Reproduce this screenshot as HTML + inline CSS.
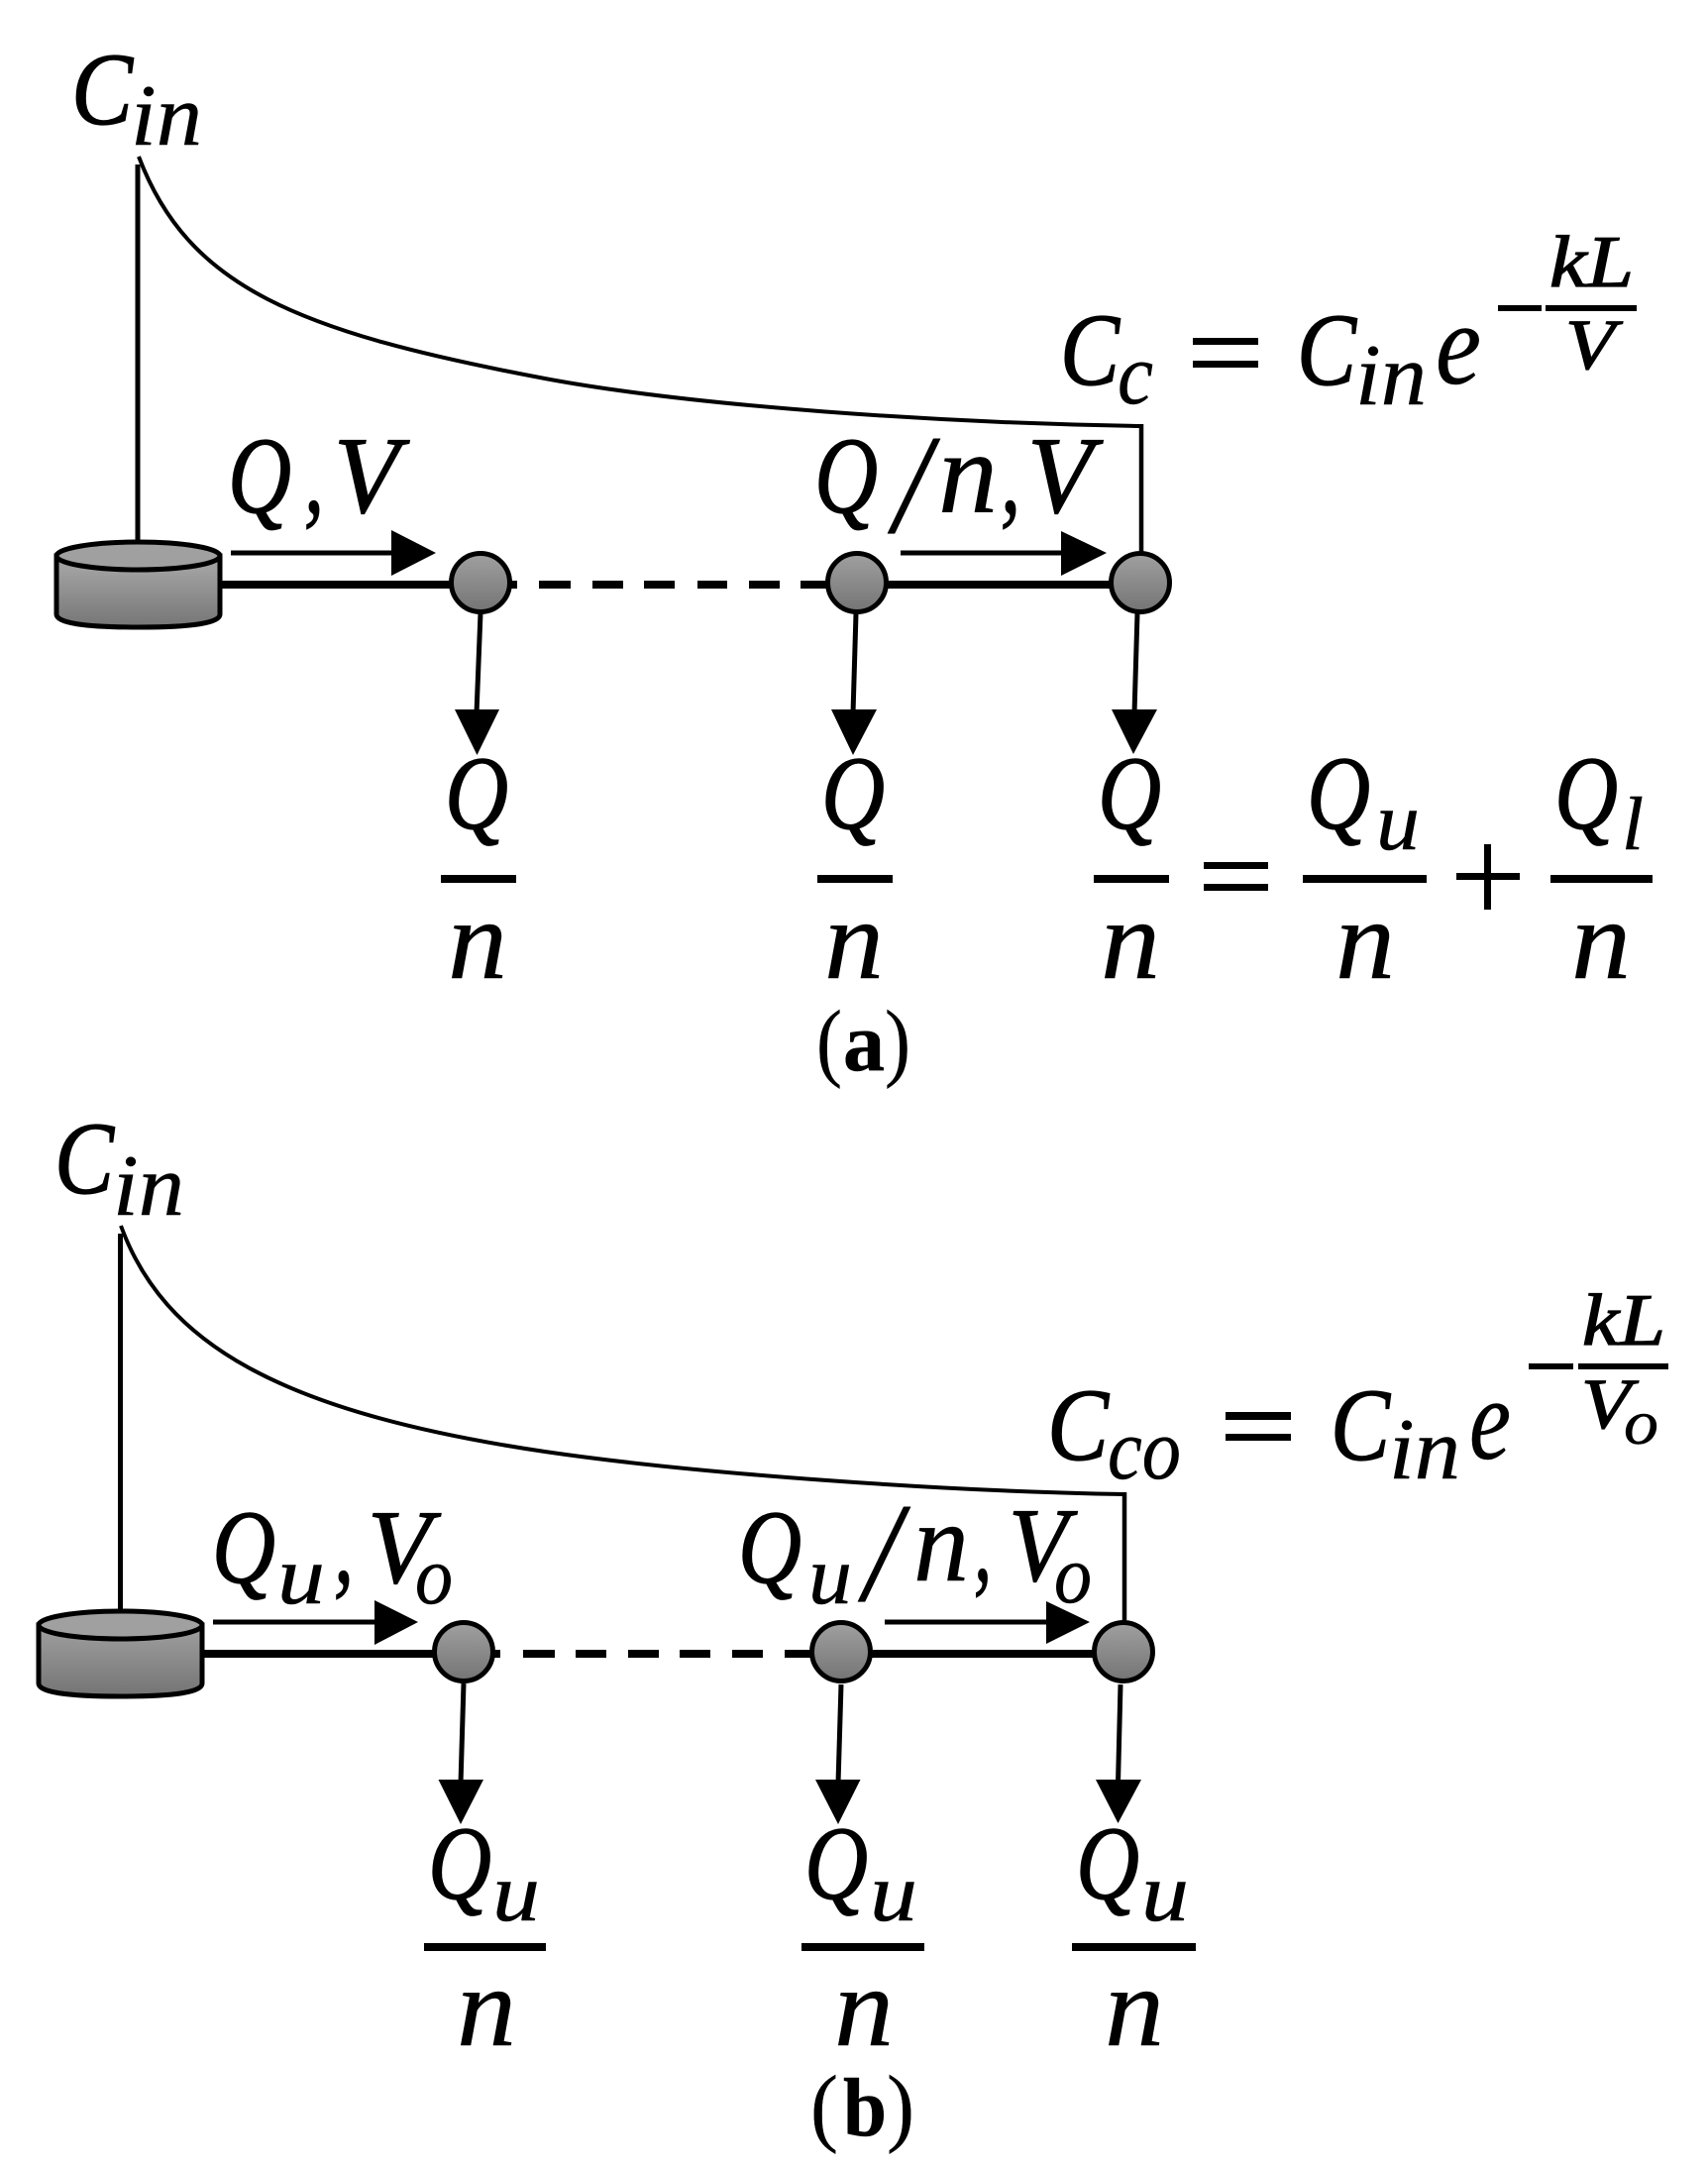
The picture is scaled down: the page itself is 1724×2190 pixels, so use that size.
<!DOCTYPE html>
<html><head><meta charset="utf-8">
<style>
html,body{margin:0;padding:0;background:#fff}
svg{display:block}
text{font-family:"Liberation Serif",serif;fill:#000;stroke:#000;stroke-width:1.3px}
.i{font-style:italic}
.n{stroke-width:.5px}
.b{font-weight:bold;stroke-width:.5px}
.r{stroke-width:.3px}
</style></head>
<body>
<svg xmlns="http://www.w3.org/2000/svg" width="1724" height="2190" viewBox="0 0 1724 2190">
<defs>
<linearGradient id="g" x1="0" y1="0" x2="0" y2="1"><stop offset="0" stop-color="#a0a0a0"/><stop offset="1" stop-color="#747474"/></linearGradient>
<linearGradient id="h" gradientUnits="userSpaceOnUse" x1="0" y1="575" x2="0" y2="634"><stop offset="0" stop-color="#a0a0a0"/><stop offset="1" stop-color="#757575"/></linearGradient>
</defs>
<rect width="1724" height="2190" fill="#fff"/>

<!-- PANEL A -->
<g fill="none" stroke="#000">
<path d="M139 166V547" stroke-width="5"/>
<path d="M140 158C190 290 300 335 550 382C700 410 950 427 1153 430" stroke-width="4"/>
<path d="M1152 428V560" stroke-width="4.5"/>
<path d="M222 590H460M516 590H522M544 590H576M598 590H629M650 590H681M704 590H734M756 590H787M808 590H840M890 590H1125" stroke-width="8"/>
<path d="M233 558H400M909 558H1075" stroke-width="5"/>
<path d="M485 619L481 720M864 619L861 720M1148 619L1145 720" stroke-width="5"/>
</g>
<path d="M395 535L440 558L395 581ZM1071 536L1117 558L1071 581ZM459 716H504L481.500 762ZM839 716H885L861 762ZM1122 716H1168L1144 761Z" fill="#000"/>
<path d="M57 561V620Q57 633 140 633Q222 633 222 620V561Z" fill="url(#h)" stroke="#000" stroke-width="5"/>
<ellipse cx="139.500" cy="561" rx="82.500" ry="14" fill="#a0a0a0" stroke="#000" stroke-width="5"/>
<circle cx="485" cy="588" r="29.500" fill="url(#g)" stroke="#000" stroke-width="5"/>
<circle cx="865" cy="588" r="29.500" fill="url(#g)" stroke="#000" stroke-width="5"/>
<circle cx="1151" cy="588" r="29.500" fill="url(#g)" stroke="#000" stroke-width="5"/>
<path d="M445 883h76v8h-76zM825 883h76v8h-76zM1104 883h76v8h-76zM1315 883h125v8h-125zM1565 883h103v8h-103zM1215 870h65v7h-65zM1215 892h65v7h-65zM1470 881h64v7h-64zM1498 852h7v66h-7zM1204 341h66v7h-66zM1204 364h66v7h-66zM1512 308h44v6h-44zM1560 308h92v6h-92z" fill="#000"/>

<text class="i" x="72" y="125" font-size="104" textLength="62" lengthAdjust="spacingAndGlyphs">C</text>
<text class="i n" x="132" y="146" font-size="88" textLength="72" lengthAdjust="spacingAndGlyphs">in</text>
<text class="i" x="230" y="517" font-size="110" textLength="64" lengthAdjust="spacingAndGlyphs">Q</text>
<text class="i" x="307" y="517" font-size="110" textLength="20" lengthAdjust="spacingAndGlyphs">,</text>
<text class="i" x="337" y="517" font-size="110" textLength="66" lengthAdjust="spacingAndGlyphs">V</text>

<text class="i" x="822" y="517" font-size="110" textLength="64" lengthAdjust="spacingAndGlyphs">Q</text>
<text class="i n" x="902" y="537" font-size="143" textLength="37" lengthAdjust="spacingAndGlyphs">/</text>
<text class="i n" x="947" y="517" font-size="118" textLength="60" lengthAdjust="spacingAndGlyphs">n</text>
<text class="i" x="1010" y="517" font-size="110" textLength="20" lengthAdjust="spacingAndGlyphs">,</text>
<text class="i" x="1037" y="517" font-size="110" textLength="66" lengthAdjust="spacingAndGlyphs">V</text>

<text class="i" x="1070" y="388" font-size="104" textLength="60" lengthAdjust="spacingAndGlyphs">C</text>
<text class="i n" x="1128" y="407" font-size="88" textLength="36" lengthAdjust="spacingAndGlyphs">c</text>
<text class="i" x="1309" y="388" font-size="104" textLength="60" lengthAdjust="spacingAndGlyphs">C</text>
<text class="i n" x="1368" y="408" font-size="88" textLength="72" lengthAdjust="spacingAndGlyphs">in</text>
<text class="i n" x="1449" y="387" font-size="118" textLength="46" lengthAdjust="spacingAndGlyphs">e</text>
<text class="i" x="1564" y="289" font-size="74" textLength="85" lengthAdjust="spacingAndGlyphs">kL</text>
<text class="i" x="1580" y="372" font-size="72" textLength="50" lengthAdjust="spacingAndGlyphs">V</text>

<text class="i" x="449" y="836" font-size="106" textLength="64" lengthAdjust="spacingAndGlyphs">Q</text>
<text class="i" x="829" y="836" font-size="106" textLength="64" lengthAdjust="spacingAndGlyphs">Q</text>
<text class="i" x="1108" y="836" font-size="106" textLength="64" lengthAdjust="spacingAndGlyphs">Q</text>
<text class="i" x="1319" y="836" font-size="106" textLength="64" lengthAdjust="spacingAndGlyphs">Q</text>
<text class="i n" x="1389" y="857" font-size="84" textLength="44" lengthAdjust="spacingAndGlyphs">u</text>
<text class="i" x="1569" y="836" font-size="106" textLength="64" lengthAdjust="spacingAndGlyphs">Q</text>
<text class="i n" x="1637" y="857" font-size="76" textLength="22" lengthAdjust="spacingAndGlyphs">l</text>
<text class="i n" x="452" y="987" font-size="114" textLength="60" lengthAdjust="spacingAndGlyphs">n</text>
<text class="i n" x="832" y="987" font-size="114" textLength="60" lengthAdjust="spacingAndGlyphs">n</text>
<text class="i n" x="1111" y="987" font-size="114" textLength="60" lengthAdjust="spacingAndGlyphs">n</text>
<text class="i n" x="1348" y="987" font-size="114" textLength="60" lengthAdjust="spacingAndGlyphs">n</text>
<text class="i n" x="1586" y="987" font-size="114" textLength="60" lengthAdjust="spacingAndGlyphs">n</text>

<text class="r" x="824" y="1080" font-size="88" textLength="26" lengthAdjust="spacingAndGlyphs">(</text>
<text class="b" x="851" y="1080" font-size="84" textLength="42" lengthAdjust="spacingAndGlyphs">a</text>
<text class="r" x="893" y="1080" font-size="88" textLength="26" lengthAdjust="spacingAndGlyphs">)</text>

<!-- PANEL B -->
<g fill="none" stroke="#000">
<path d="M121.500 1245V1626" stroke-width="5"/>
<path d="M122 1237C165 1355 280 1425 550 1465C700 1487 950 1505 1135 1508" stroke-width="4"/>
<path d="M1135 1506V1640" stroke-width="4.500"/>
<path d="M205 1669H445M499 1669H505M528 1669H560M581 1669H612M634 1669H665M686 1669H717M739 1669H770M792 1669H825M875 1669H1108" stroke-width="8"/>
<path d="M215 1637H382M893 1637H1060" stroke-width="5"/>
<path d="M468 1699L465 1800M849 1700L846 1800M1131 1700L1128.500 1800" stroke-width="5"/>
</g>
<path d="M378 1615L422 1637L378 1660ZM1056 1616L1100 1637L1056 1659ZM442.500 1796H488L465 1841ZM823 1796H868.500L846 1841ZM1106 1796H1152L1128.500 1840Z" fill="#000"/>
<path d="M39 1640V1699Q39 1712 122 1712Q204 1712 204 1699V1640Z" fill="url(#g)" stroke="#000" stroke-width="5"/>
<ellipse cx="121.500" cy="1640" rx="82.500" ry="14" fill="#a0a0a0" stroke="#000" stroke-width="5"/>
<circle cx="468" cy="1667" r="29.500" fill="url(#g)" stroke="#000" stroke-width="5"/>
<circle cx="849" cy="1667" r="29.500" fill="url(#g)" stroke="#000" stroke-width="5"/>
<circle cx="1134" cy="1667" r="29.500" fill="url(#g)" stroke="#000" stroke-width="5"/>
<path d="M428 1961h123v8h-123zM809 1961h124v8h-124zM1082 1961h125v8h-125zM1237 1425h66v8h-66zM1237 1447h66v7h-66zM1543 1376h45v6h-45zM1593 1376h91v6h-91z" fill="#000"/>

<text class="i" x="55" y="1204" font-size="104" textLength="60" lengthAdjust="spacingAndGlyphs">C</text>
<text class="i n" x="114" y="1226" font-size="88" textLength="72" lengthAdjust="spacingAndGlyphs">in</text>
<text class="i" x="214" y="1597" font-size="106" textLength="64" lengthAdjust="spacingAndGlyphs">Q</text>
<text class="i n" x="280" y="1618" font-size="84" textLength="48" lengthAdjust="spacingAndGlyphs">u</text>
<text class="i" x="337" y="1597" font-size="110" textLength="20" lengthAdjust="spacingAndGlyphs">,</text>
<text class="i" x="371" y="1597" font-size="106" textLength="64" lengthAdjust="spacingAndGlyphs">V</text>
<text class="i n" x="419" y="1618" font-size="84" textLength="38" lengthAdjust="spacingAndGlyphs">o</text>

<text class="i" x="745" y="1597" font-size="106" textLength="64" lengthAdjust="spacingAndGlyphs">Q</text>
<text class="i n" x="816" y="1618" font-size="84" textLength="44" lengthAdjust="spacingAndGlyphs">u</text>
<text class="i n" x="872" y="1615" font-size="143" textLength="37" lengthAdjust="spacingAndGlyphs">/</text>
<text class="i n" x="922" y="1595" font-size="114" textLength="56" lengthAdjust="spacingAndGlyphs">n</text>
<text class="i" x="983" y="1595" font-size="110" textLength="18" lengthAdjust="spacingAndGlyphs">,</text>
<text class="i" x="1018" y="1595" font-size="106" textLength="60" lengthAdjust="spacingAndGlyphs">V</text>
<text class="i n" x="1064" y="1617" font-size="84" textLength="38" lengthAdjust="spacingAndGlyphs">o</text>

<text class="i" x="1057" y="1473" font-size="104" textLength="62" lengthAdjust="spacingAndGlyphs">C</text>
<text class="i n" x="1118" y="1492" font-size="88" textLength="74" lengthAdjust="spacingAndGlyphs">co</text>
<text class="i" x="1343" y="1473" font-size="104" textLength="60" lengthAdjust="spacingAndGlyphs">C</text>
<text class="i n" x="1402" y="1492" font-size="88" textLength="72" lengthAdjust="spacingAndGlyphs">in</text>
<text class="i n" x="1483" y="1472" font-size="118" textLength="42" lengthAdjust="spacingAndGlyphs">e</text>
<text class="i" x="1597" y="1357" font-size="74" textLength="84" lengthAdjust="spacingAndGlyphs">kL</text>
<text class="i" x="1596" y="1441" font-size="72" textLength="50" lengthAdjust="spacingAndGlyphs">V</text>
<text class="i n" x="1639" y="1457" font-size="64" textLength="35" lengthAdjust="spacingAndGlyphs">o</text>

<text class="i" x="432" y="1916" font-size="106" textLength="64" lengthAdjust="spacingAndGlyphs">Q</text>
<text class="i n" x="497" y="1938" font-size="84" textLength="48" lengthAdjust="spacingAndGlyphs">u</text>
<text class="i" x="812" y="1916" font-size="106" textLength="64" lengthAdjust="spacingAndGlyphs">Q</text>
<text class="i n" x="878" y="1938" font-size="84" textLength="48" lengthAdjust="spacingAndGlyphs">u</text>
<text class="i" x="1086" y="1916" font-size="106" textLength="64" lengthAdjust="spacingAndGlyphs">Q</text>
<text class="i n" x="1152" y="1938" font-size="84" textLength="48" lengthAdjust="spacingAndGlyphs">u</text>
<text class="i n" x="461" y="2064" font-size="114" textLength="60" lengthAdjust="spacingAndGlyphs">n</text>
<text class="i n" x="842" y="2064" font-size="114" textLength="60" lengthAdjust="spacingAndGlyphs">n</text>
<text class="i n" x="1115" y="2064" font-size="114" textLength="60" lengthAdjust="spacingAndGlyphs">n</text>

<text class="r" x="818" y="2155" font-size="88" textLength="28" lengthAdjust="spacingAndGlyphs">(</text>
<text class="b" x="851" y="2155" font-size="84" textLength="44" lengthAdjust="spacingAndGlyphs">b</text>
<text class="r" x="895" y="2155" font-size="88" textLength="28" lengthAdjust="spacingAndGlyphs">)</text>
</svg>
</body></html>
